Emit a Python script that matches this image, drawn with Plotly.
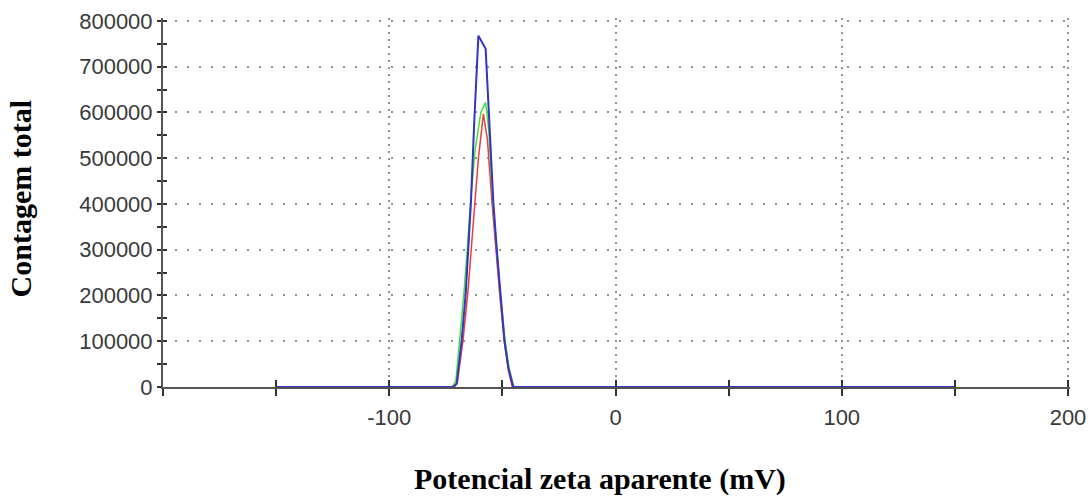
import plotly.graph_objects as go

# ---- data ----
blue_x = [-150, -71.7, -70.2, -69.2, -68.0, -66.2, -65.0, -63.9, -62.4, -60.6, -57.4, -55.8, -54.0, -52.5, -51.0, -49.1, -47.4, -45.2, 150]
blue_y = [0, 0, 7000, 45000, 102000, 204000, 302000, 404000, 583000, 768000, 739000, 583000, 404000, 302000, 204000, 102000, 43000, 0, 0]

green_x = [-150, -72.2, -70.6, -68.9, -67.0, -65.5, -64.1, -62.0, -59.5, -57.4, -56.0, -54.2, -52.6, -50.9, -48.8, -47.0, -44.9, 150]
green_y = [0, 0, 12000, 102000, 204000, 302000, 404000, 520000, 600000, 622000, 560000, 404000, 302000, 204000, 102000, 40000, 0, 0]

red_x = [-150, -71.3, -69.9, -67.4, -65.3, -63.8, -62.2, -60.6, -58.4, -56.6, -54.6, -53.0, -51.2, -49.2, -47.3, -45.6, 150]
red_y = [0, 0, 10000, 102000, 204000, 302000, 404000, 500000, 597000, 540000, 404000, 302000, 204000, 102000, 35000, 0, 0]

x_tick_vals = [-100, 0, 100, 200]
x_tick_text = ["-100", "0", "100", "200"]
y_tick_vals = [0, 100000, 200000, 300000, 400000, 500000, 600000, 700000, 800000]
y_tick_text = [str(v) for v in y_tick_vals]

x_title = "Potencial zeta aparente (mV)"
y_title = "Contagem total"

# ranges extended very slightly so the gridlines at 800000 and 200 are kept
X_RANGE = [-200, 200.88]
Y_RANGE = [0, 806500]

AXIS_COLOR = "#555555"
GRID_COLOR = "#909090"
TICK_COLOR = "#333333"
TICK_FONT = dict(family="Liberation Sans, Arial, sans-serif", size=22, color="#3a3a3a")
TITLE_FONT = dict(family="Liberation Serif, Times New Roman, serif", size=30, color="#000000")

fig = go.Figure()
fig.add_trace(go.Scatter(x=red_x, y=red_y, mode="lines",
                         line=dict(color="#ee3b3b", width=1.5), showlegend=False))
fig.add_trace(go.Scatter(x=green_x, y=green_y, mode="lines",
                         line=dict(color="#3ee23e", width=1.5), showlegend=False))
# blue is drawn on the overlay axes (on top, and it makes the overlay axes exist)
fig.add_trace(go.Scatter(x=blue_x, y=blue_y, mode="lines", xaxis="x2", yaxis="y2",
                         line=dict(color="#3333c4", width=2), showlegend=False))

fig.update_layout(
    width=1092, height=497,
    margin=dict(l=163, r=22, t=18, b=110),
    paper_bgcolor="white", plot_bgcolor="white",
    xaxis=dict(
        range=X_RANGE, tickvals=x_tick_vals, ticktext=x_tick_text, automargin=False,
        showgrid=True, gridcolor=GRID_COLOR, gridwidth=2, griddash="2px,5px",
        zeroline=False, showline=True, linecolor=AXIS_COLOR, linewidth=2,
        ticks="outside", ticklen=7, tickwidth=1.5, tickcolor=TICK_COLOR,
        minor=dict(tick0=-200, dtick=50, ticks="outside", ticklen=7, tickwidth=1.5,
                   tickcolor=TICK_COLOR, showgrid=False),
        tickfont=TICK_FONT, ticklabelstandoff=3,
    ),
    yaxis=dict(
        range=Y_RANGE, tickvals=y_tick_vals, ticktext=y_tick_text, automargin=False,
        showgrid=True, gridcolor=GRID_COLOR, gridwidth=2, griddash="2px,10px",
        zeroline=False, showline=True, linecolor=AXIS_COLOR, linewidth=2,
        ticks="outside", ticklen=4, tickwidth=1.5, tickcolor=TICK_COLOR,
        minor=dict(tick0=0, dtick=50000, ticks="outside", ticklen=4, tickwidth=1.5,
                   tickcolor=TICK_COLOR, showgrid=False),
        tickfont=TICK_FONT, ticklabelstandoff=0,
    ),
    xaxis2=dict(
        range=X_RANGE, overlaying="x", anchor="y2", side="bottom", automargin=False,
        showgrid=False, zeroline=False, showline=False, showticklabels=False,
        tickvals=x_tick_vals,
        ticks="inside", ticklen=7, tickwidth=1.5, tickcolor=TICK_COLOR,
        minor=dict(tick0=-200, dtick=50, ticks="inside", ticklen=7, tickwidth=1.5,
                   tickcolor=TICK_COLOR, showgrid=False),
    ),
    yaxis2=dict(
        range=Y_RANGE, overlaying="y", anchor="x2", side="left", automargin=False,
        showgrid=False, zeroline=False, showline=False, showticklabels=False,
        tickvals=y_tick_vals,
        ticks="inside", ticklen=4, tickwidth=1.5, tickcolor=TICK_COLOR,
        minor=dict(tick0=0, dtick=50000, ticks="inside", ticklen=4, tickwidth=1.5,
                   tickcolor=TICK_COLOR, showgrid=False),
    ),
    annotations=[
        dict(text="<b>" + x_title + "</b>", xref="paper", yref="paper", x=0.482, y=-0.25,
             xanchor="center", yanchor="middle", showarrow=False,
             font=TITLE_FONT),
        dict(text="<b>" + y_title + "</b>", xref="paper", yref="paper", x=-0.157, y=0.51,
             xanchor="center", yanchor="middle", showarrow=False, textangle=-90,
             font=TITLE_FONT),
    ],
)

# remove the browser's default 8px page margin so the figure sits at the window origin
fig.write_html("out.html", config={"displayModeBar": False},
               post_script="document.body.style.margin='0';")
